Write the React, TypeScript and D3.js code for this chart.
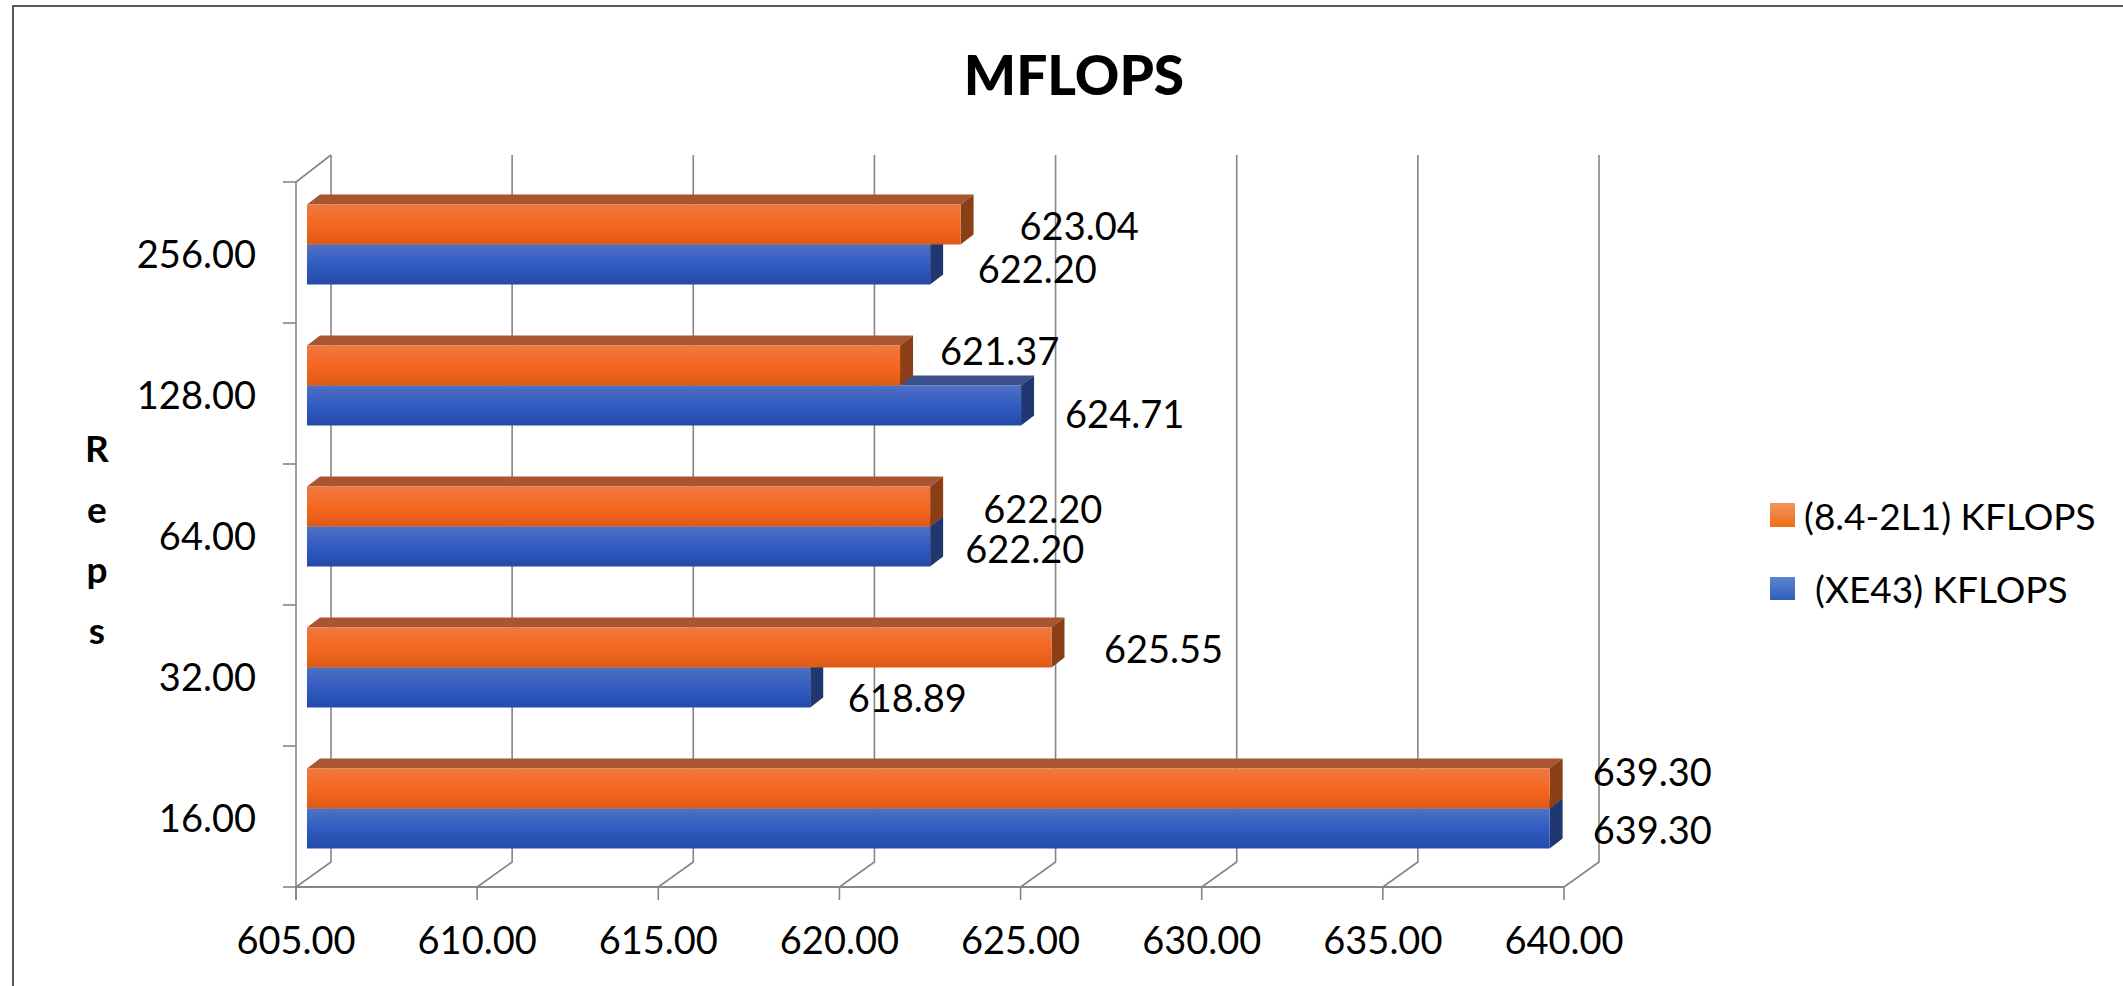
import React from "react";
import * as d3 from "d3";

const categories = ["16.00", "32.00", "64.00", "128.00", "256.00"];
const orangeValues = [639.3, 625.55, 622.2, 621.37, 623.04];
const blueValues = [639.3, 618.89, 622.2, 624.71, 622.2];
const xTicks = [605, 610, 615, 620, 625, 630, 635, 640];
const seriesNames = ["(8.4-2L1) KFLOPS", "(XE43) KFLOPS"];
const axisTitleLetters = ["R", "e", "p", "s"];

const orangeLabelDx = [43, 52.5, 53, 40, 59];
const blueLabelDx = [43, 37.5, 35, 44, 47.5];
const orangeLabelBase = [786, 663, 523, 365, 240];
const blueLabelBase = [844, 712, 563, 428, 283];

const FONT = "Lato, Carlito, 'Open Sans', sans-serif";
const GRID = "#868686";
const ox = 11, oy = -8;
const dx = 13, dy = -10;
const barH = 40;
const wallDx = 35, wallDy = -25;

const x = d3.scaleLinear().domain([605, 640]).range([296, 1564]);
const y = d3.scaleBand<string>().domain(categories).range([887, 182]);

const poly = (pts: [number, number][]) => pts.map((p) => p.join(",")).join(" ");

function Bar({ v, top, ids, colors }: { v: number; top: number; ids: string; colors: { top: string; side: string } }) {
  const x0 = x(605) + ox;
  const x1 = x(v) + ox;
  return (
    <g>
      <polygon points={poly([[x0, top], [x0 + dx, top + dy], [x1 + dx, top + dy], [x1, top]])} fill={colors.top} />
      <polygon points={poly([[x1, top], [x1 + dx, top + dy], [x1 + dx, top + barH + dy], [x1, top + barH]])} fill={colors.side} />
      <rect x={x0} y={top} width={x1 - x0} height={barH} fill={`url(#${ids})`} />
    </g>
  );
}

export default function App() {
  const yBase = y.range()[0];
  const yTop = y.range()[1];
  const ticksY = [...categories.map((c) => y(c)! + y.bandwidth()), yTop];
  return (
    <svg
      width={2123}
      height={986}
      viewBox="0 0 2123 986"
      style={{ position: "absolute", left: 0, top: 0, display: "block", background: "#fff" }}
      fontFamily={FONT}
    >
      <defs>
        <linearGradient id="gO" x1="0" y1="0" x2="0" y2="1">
          <stop offset="0" stopColor="#f0783e" />
          <stop offset="0.55" stopColor="#f4661f" />
          <stop offset="1" stopColor="#dc5a17" />
        </linearGradient>
        <linearGradient id="gB" x1="0" y1="0" x2="0" y2="1">
          <stop offset="0" stopColor="#4f70c4" />
          <stop offset="0.55" stopColor="#2f5ac0" />
          <stop offset="1" stopColor="#2549a8" />
        </linearGradient>
        <linearGradient id="lO" x1="0" y1="0" x2="0" y2="1">
          <stop offset="0" stopColor="#f29460" />
          <stop offset="1" stopColor="#ee6f14" />
        </linearGradient>
        <linearGradient id="lB" x1="0" y1="0" x2="0" y2="1">
          <stop offset="0" stopColor="#5f83cf" />
          <stop offset="1" stopColor="#2e5fbe" />
        </linearGradient>
      </defs>

      <path d="M2123,6 H13 V986" fill="none" stroke="#595959" strokeWidth={2} />

      <text x={1074} y={95} textAnchor="middle" fontSize={55} fontWeight={900} fill="#000">MFLOPS</text>

      <g stroke={GRID} strokeWidth={1.6} fill="none">
        {xTicks.map((t) => (
          <polyline
            key={t}
            points={poly([[x(t), yBase], [x(t) + wallDx, yBase + wallDy], [x(t) + wallDx, yTop + wallDy - 2]])}
          />
        ))}
        <line x1={x(605)} x2={x(605) + wallDx} y1={yTop} y2={yTop + wallDy - 2} />
        <line x1={x(605)} x2={x(605)} y1={yTop} y2={yBase + 13} />
        <line x1={x(605)} x2={x(640)} y1={yBase} y2={yBase} strokeWidth={2} />
        {ticksY.map((t) => (
          <line key={t} x1={x(605) - 13} x2={x(605)} y1={t} y2={t} />
        ))}
        {xTicks.map((t) => (
          <line key={t} x1={x(t)} x2={x(t)} y1={yBase} y2={yBase + 13} />
        ))}
      </g>

      {categories.map((c, i) => {
        const top = y(c)! + y.bandwidth() / 2 + oy - barH;
        return (
          <g key={c}>
            <Bar v={blueValues[i]} top={top + barH} ids="gB" colors={{ top: "#3a4f8b", side: "#20376f" }} />
            <Bar v={orangeValues[i]} top={top} ids="gO" colors={{ top: "#a85631", side: "#8a3f16" }} />
          </g>
        );
      })}

      <g fontSize={38} fill="#000">
        {categories.map((c, i) => (
          <g key={c}>
            <text x={x(orangeValues[i]) + ox + orangeLabelDx[i]} y={orangeLabelBase[i]}>{orangeValues[i].toFixed(2)}</text>
            <text x={x(blueValues[i]) + ox + blueLabelDx[i]} y={blueLabelBase[i]}>{blueValues[i].toFixed(2)}</text>
            <text x={256} y={y(c)! + y.bandwidth() / 2 + 15.5} textAnchor="end">{c}</text>
          </g>
        ))}
        {xTicks.map((t) => (
          <text key={t} x={x(t)} y={954} textAnchor="middle">{t.toFixed(2)}</text>
        ))}
      </g>

      <g fontSize={37} fontWeight={700} fill="#000" textAnchor="middle">
        {axisTitleLetters.map((l, i) => (
          <text key={l} x={97} y={462 + i * 60.5}>{l}</text>
        ))}
      </g>

      <rect x={1770} y={503} width={25} height={24} fill="url(#lO)" />
      <rect x={1770} y={577} width={25} height={23} fill="url(#lB)" />
      <g fontSize={37} fill="#000">
        <text x={1804} y={530}>{seriesNames[0]}</text>
        <text x={1815} y={603}>{seriesNames[1]}</text>
      </g>
    </svg>
  );
}
